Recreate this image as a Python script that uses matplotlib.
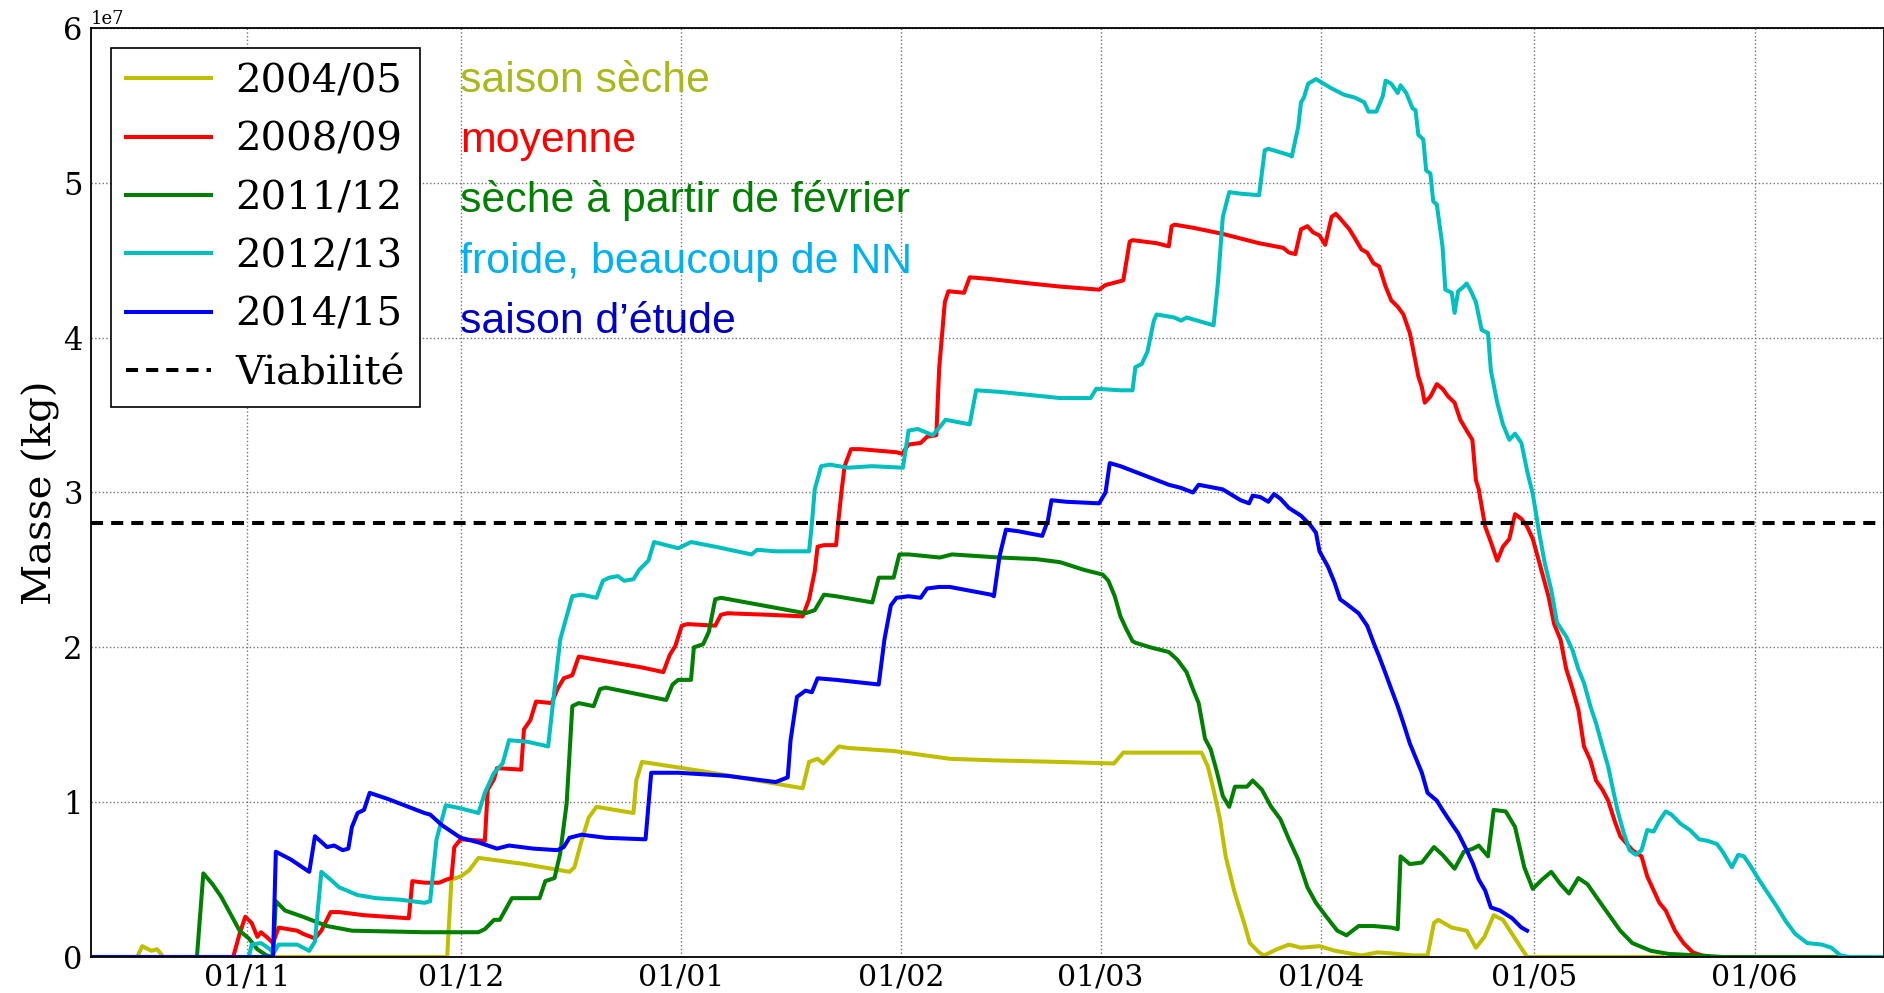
import numpy as np
import matplotlib
matplotlib.use("Agg")
import matplotlib.pyplot as plt
from matplotlib.ticker import FixedLocator, FixedFormatter

# days counted from 1 October, mass in units of 1e7 kg
yellow_days = [9, 15.5, 16.2, 17.5, 18.3, 19.2, 59.1, 59.7, 61, 62.2,
               63.5, 70, 76.3, 77, 78, 79, 80.1, 85.3, 85.7, 86.5,
               95, 109.1, 110, 111.2, 112, 114.2, 115.5, 122, 129.8, 136,
               145, 152.9, 154.2, 160, 165.2, 166.1, 166.9, 167.8, 168.6, 169.9,
               171.2, 172, 173.3, 174, 175.8, 177.5, 179.2, 181.8, 184, 187.7,
               190, 192.8, 195, 197, 197.9, 198.5, 200.4, 202.5, 203.8, 205,
               206.3, 207.6, 209.3, 211, 212, 230]
yellow_mass = [0, 0, 0.07, 0.04, 0.05, 0, 0, 0.5, 0.52, 0.56,
               0.64, 0.6, 0.55, 0.58, 0.75, 0.9, 0.97, 0.93, 1.14, 1.26,
               1.2, 1.09, 1.26, 1.28, 1.25, 1.36, 1.35, 1.33, 1.28, 1.27,
               1.26, 1.25, 1.32, 1.32, 1.32, 1.23, 1.08, 0.89, 0.65, 0.41,
               0.22, 0.09, 0.03, 0.01, 0.05, 0.08, 0.06, 0.07, 0.04, 0.01,
               0.03, 0.02, 0.01, 0.01, 0.22, 0.24, 0.19, 0.17, 0.06, 0.13,
               0.27, 0.24, 0.12, 0, 0, 0]

red_days = [9, 29, 29.9, 30.7, 31.6, 32.4, 32.9, 33.7, 34.6, 35.4,
            38, 38.8, 40.5, 41.4, 42.7, 43.9, 47.4, 53.7, 54.2, 55.9,
            58, 59, 59.7, 60.1, 61, 64.4, 64.8, 65.7, 66.1, 69.5,
            69.9, 70.8, 71.6, 73.8, 74.6, 75.5, 76.7, 77.6, 78.9, 81.4,
            86.5, 89.5, 90.4, 91.2, 92.1, 92.9, 96.8, 97.6, 98.5, 104.4,
            109.1, 110, 110.8, 111.2, 112.1, 113.8, 114.2, 114.6, 115, 115.9,
            117.2, 122.3, 123.1, 124, 125.7, 126.6, 127.9, 128.3, 129.1, 129.6,
            131.8, 132.6, 135.2, 141.1, 145.3, 150.8, 151.7, 154.2, 155.1, 155.5,
            158.9, 160.6, 161, 161.4, 164, 168.2, 169.9, 173.3, 176.7, 177.5,
            178.4, 179.2, 180.1, 180.9, 181.8, 182.6, 183.5, 184.1, 184.7, 186,
            186.8, 187.7, 188.5, 189.4, 190.2, 191.1, 191.9, 192.8, 193.6, 194.5,
            194.9, 195.7, 196.2, 196.6, 197.4, 198.3, 199.1, 199.9, 200.8, 201.6,
            202.5, 203.3, 203.8, 204.2, 205.1, 205.9, 206.8, 207.6, 208.5, 209.3,
            210.2, 211, 211.8, 212.7, 214, 214.8, 215.7, 216.5, 217.4, 218.2,
            219, 219.9, 220.7, 221.6, 222.4, 223.3, 224.1, 225.8, 227.1, 227.9,
            228.8, 229.6, 230.5, 231.8, 233, 234.3, 235.6, 236.8]
red_mass = [0, 0, 0.15, 0.26, 0.22, 0.13, 0.16, 0.13, 0.09, 0.19,
            0.17, 0.15, 0.12, 0.17, 0.29, 0.29, 0.27, 0.25, 0.49, 0.48,
            0.48, 0.5, 0.51, 0.71, 0.76, 0.75, 1.08, 1.15, 1.22, 1.21,
            1.47, 1.53, 1.65, 1.64, 1.73, 1.8, 1.82, 1.94, 1.93, 1.91,
            1.87, 1.84, 1.95, 2.01, 2.14, 2.15, 2.14, 2.21, 2.22, 2.21,
            2.2, 2.31, 2.49, 2.65, 2.66, 2.66, 2.85, 3.02, 3.17, 3.28,
            3.28, 3.26, 3.25, 3.31, 3.32, 3.36, 3.37, 3.8, 4.23, 4.3,
            4.29, 4.39, 4.38, 4.35, 4.33, 4.31, 4.34, 4.37, 4.62, 4.63,
            4.61, 4.59, 4.72, 4.73, 4.71, 4.67, 4.65, 4.61, 4.58, 4.55,
            4.54, 4.7, 4.72, 4.68, 4.66, 4.6, 4.78, 4.8, 4.77, 4.7,
            4.64, 4.57, 4.55, 4.48, 4.46, 4.33, 4.24, 4.2, 4.15, 4.03,
            3.94, 3.75, 3.68, 3.58, 3.62, 3.7, 3.67, 3.62, 3.58, 3.47,
            3.4, 3.34, 3.08, 3.02, 2.78, 2.68, 2.56, 2.65, 2.7, 2.86,
            2.83, 2.78, 2.7, 2.55, 2.33, 2.15, 2.05, 1.86, 1.73, 1.6,
            1.36, 1.27, 1.14, 1.08, 1.01, 0.88, 0.78, 0.69, 0.65, 0.52,
            0.43, 0.35, 0.3, 0.17, 0.09, 0.03, 0.01, 0]

green_days = [9, 23.9, 24.8, 26.1, 27.3, 28.6, 29.9, 31.2, 32.4, 33.7,
              34.6, 35, 36.3, 38.8, 42.2, 45.7, 50.8, 55.9, 61, 63.5,
              64.4, 65.7, 66.5, 68.2, 72.1, 72.9, 74.2, 75, 75.9, 76.7,
              77.6, 79.7, 80.6, 81.4, 89.9, 90.8, 91.6, 93.4, 93.8, 95.1,
              95.9, 96.8, 97.6, 109.5, 110.8, 112.1, 113.8, 118.9, 119.8, 121.9,
              122.7, 124, 128.4, 130.1, 136.8, 141.9, 145.3, 148.7, 151.3, 152.1,
              153, 153.8, 154.6, 155.5, 155.9, 158, 160.6, 161.8, 163.1, 164,
              164.8, 165.7, 166.5, 167.4, 168.2, 169.1, 169.9, 171.6, 172.4, 173.7,
              175, 176.3, 177.5, 178.8, 180.1, 181.3, 182.6, 184.3, 185.6, 187.3,
              189.4, 191.9, 192.8, 193.2, 194.5, 196.2, 197.9, 199.1, 200.8, 202.1,
              203.4, 204.2, 205.5, 206.3, 208, 209.3, 210.6, 211.8, 213.1, 214.4,
              215.7, 216.9, 218.2, 219.5, 220.7, 222.4, 224.1, 225.8, 228.4, 230.9,
              235.2, 238.5, 261.2]
green_mass = [0, 0, 0.54, 0.47, 0.39, 0.28, 0.17, 0.12, 0.05, 0.01,
              0, 0.36, 0.3, 0.26, 0.2, 0.17, 0.165, 0.16, 0.16, 0.16,
              0.18, 0.24, 0.24, 0.38, 0.38, 0.49, 0.51, 0.67, 0.99, 1.62,
              1.64, 1.62, 1.73, 1.74, 1.66, 1.76, 1.79, 1.79, 2.0, 2.02,
              2.1, 2.31, 2.32, 2.22, 2.24, 2.34, 2.33, 2.29, 2.45, 2.45,
              2.6, 2.6, 2.58, 2.6, 2.58, 2.57, 2.55, 2.5, 2.47, 2.43,
              2.33, 2.2, 2.12, 2.04, 2.03, 2.0, 1.97, 1.92, 1.84, 1.73,
              1.64, 1.41, 1.34, 1.19, 1.04, 0.97, 1.1, 1.1, 1.14, 1.08,
              0.97, 0.89, 0.76, 0.63, 0.45, 0.35, 0.27, 0.17, 0.14, 0.2,
              0.2, 0.19, 0.18, 0.65, 0.6, 0.61, 0.71, 0.66, 0.57, 0.68,
              0.7, 0.72, 0.65, 0.95, 0.94, 0.84, 0.58, 0.44, 0.5, 0.55,
              0.47, 0.41, 0.51, 0.47, 0.39, 0.28, 0.17, 0.09, 0.04, 0.02,
              0.01, 0, 0]

cyan_days = [9, 31.2, 31.6, 32.9, 34.2, 34.6, 35.4, 38, 39.7, 40.5,
             41.4, 42.7, 43.9, 46.5, 49.1, 52.5, 55.9, 56.7, 57.6, 58.9,
             61, 63.5, 64.4, 65.7, 66.9, 67.8, 70.4, 73.3, 74.2, 75,
             75.9, 76.7, 78, 80.1, 81, 81.9, 83.1, 84, 85.3, 86.1,
             87.4, 88.2, 89.9, 91.6, 93.4, 96.8, 101.9, 102.7, 105.3, 107,
             110, 110.4, 110.8, 111.7, 112.9, 115.5, 118.9, 123.2, 124, 125.3,
             127.4, 128.7, 129.2, 132.6, 133.5, 136.8, 141.1, 145.3, 149.6, 150.4,
             153.8, 155.5, 155.9, 156.8, 157.6, 158.5, 158.9, 161.4, 162.3, 163.1,
             166.9, 167.5, 168.2, 169.1, 170.7, 173.3, 174.1, 174.6, 177.5, 177.9,
             178.8, 179.2, 179.6, 180.2, 181.3, 183.5, 185.2, 186.8, 188.1, 188.7,
             189.8, 190.7, 191.1, 191.9, 192.8, 193.2, 194, 194.9, 195.3, 195.7,
             196.4, 196.8, 197.4, 197.8, 198.3, 199.1, 199.5, 200.4, 200.8, 201.3,
             202.1, 202.5, 203, 203.8, 204.6, 205.5, 205.9, 206.8, 207.6, 208.5,
             209.3, 210.2, 211, 211.8, 212.7, 213.5, 214.4, 215.2, 216.5, 217.4,
             218.2, 219, 219.9, 220.7, 221.6, 222.4, 222.9, 223.7, 224.6, 225.4,
             226.3, 227.1, 227.9, 228.8, 229.6, 230.5, 231.3, 232.6, 233.9, 235.2,
             236.4, 237.7, 238.5, 239.8, 240.7, 241.5, 242.4, 243.6, 244.9, 246.2,
             247.4, 248.7, 250.4, 252.5, 253.8, 255.1, 256.3, 261.2]
cyan_mass = [0, 0, 0.08, 0.09, 0.05, 0.02, 0.08, 0.08, 0.04, 0.1,
             0.55, 0.5, 0.45, 0.4, 0.38, 0.37, 0.35, 0.36, 0.76, 0.98,
             0.96, 0.93, 1.06, 1.19, 1.25, 1.4, 1.39, 1.36, 1.73, 2.05,
             2.2, 2.33, 2.34, 2.32, 2.43, 2.45, 2.46, 2.43, 2.44, 2.5,
             2.56, 2.68, 2.66, 2.64, 2.68, 2.65, 2.6, 2.63, 2.62, 2.62,
             2.62, 2.8, 3.02, 3.17, 3.18, 3.16, 3.17, 3.16, 3.4, 3.41,
             3.37, 3.44, 3.47, 3.44, 3.66, 3.65, 3.63, 3.61, 3.61, 3.67,
             3.66, 3.66, 3.81, 3.83, 3.91, 4.11, 4.15, 4.13, 4.11, 4.13,
             4.08, 4.35, 4.78, 4.94, 4.93, 4.92, 5.21, 5.22, 5.18, 5.17,
             5.36, 5.52, 5.55, 5.64, 5.67, 5.61, 5.57, 5.55, 5.52, 5.46,
             5.46, 5.56, 5.66, 5.64, 5.58, 5.63, 5.58, 5.48, 5.47, 5.31,
             5.28, 5.08, 5.06, 4.88, 4.86, 4.59, 4.31, 4.29, 4.16, 4.3,
             4.33, 4.35, 4.31, 4.23, 4.05, 4.03, 3.79, 3.58, 3.44, 3.34,
             3.38, 3.32, 3.14, 2.99, 2.74, 2.54, 2.37, 2.16, 2.07, 1.98,
             1.86, 1.77, 1.62, 1.51, 1.36, 1.23, 1.12, 0.95, 0.8, 0.69,
             0.66, 0.69, 0.82, 0.81, 0.88, 0.94, 0.92, 0.86, 0.82, 0.76,
             0.75, 0.73, 0.68, 0.58, 0.66, 0.65, 0.59, 0.5, 0.41, 0.32,
             0.23, 0.15, 0.09, 0.08, 0.06, 0.01, 0, 0]

blue_days = [9, 34.6, 35, 37.1, 39.7, 40.5, 42.2, 43.2, 44.4, 45.2,
             45.7, 46.5, 47.4, 48.2, 50.8, 55.9, 56.7, 58.4, 61, 63.5,
             66.1, 67.8, 71.2, 74.6, 75.5, 76.3, 78, 81.4, 87, 87.8,
             91.6, 98.5, 105.3, 107, 107.4, 108.3, 109.5, 110.4, 111.2, 113.8,
             119.8, 120.6, 121.5, 122.3, 124, 125.7, 126.6, 128.3, 129.8, 135.6,
             136, 136.8, 137.7, 139.4, 142.8, 143.6, 144.1, 146.2, 150.8, 151.7,
             152.3, 153.8, 157.2, 160.6, 162.3, 164, 164.8, 168.2, 170.7, 171.9,
             172.4, 173.5, 174.6, 175.4, 176.3, 177.5, 179.2, 180.5, 181.3, 181.8,
             183, 183.9, 184.7, 185.6, 187.3, 188.5, 189.4, 190.2, 191.1, 191.9,
             192.8, 193.6, 194.5, 195.3, 196.2, 197, 198.3, 199.1, 200.4, 201.3,
             202.5, 203.4, 204.2, 205.1, 205.9, 207.2, 208.9, 210.2, 211]
blue_mass = [0, 0, 0.68, 0.63, 0.55, 0.78, 0.71, 0.72, 0.69, 0.7,
             0.84, 0.93, 0.95, 1.06, 1.02, 0.93, 0.92, 0.85, 0.77, 0.74,
             0.7, 0.72, 0.7, 0.69, 0.71, 0.77, 0.79, 0.77, 0.76, 1.19,
             1.19, 1.17, 1.13, 1.16, 1.4, 1.68, 1.72, 1.71, 1.8, 1.79,
             1.76, 2.05, 2.27, 2.32, 2.33, 2.32, 2.38, 2.39, 2.39, 2.34,
             2.33, 2.59, 2.76, 2.75, 2.72, 2.82, 2.95, 2.94, 2.93, 3.0,
             3.19, 3.17, 3.11, 3.05, 3.03, 3.0, 3.05, 3.02, 2.95, 2.93,
             2.98, 2.97, 2.94, 2.99, 2.96, 2.9, 2.85, 2.79, 2.74, 2.62,
             2.52, 2.42, 2.31, 2.28, 2.22, 2.14, 2.03, 1.94, 1.83, 1.73,
             1.62, 1.51, 1.38, 1.29, 1.19, 1.06, 1.01, 0.95, 0.86, 0.8,
             0.69, 0.6, 0.5, 0.43, 0.32, 0.3, 0.25, 0.19, 0.17]

viability = 2.8e7

seasons = ['2004/05', '2008/09', '2011/12', '2012/13', '2014/15']
line_colors = ['#bfbf00', '#ff0000', '#008000', '#00bfbf', '#0000ff']
comments = [u'saison sèche', 'moyenne', u'sèche à partir de février',
            'froide, beaucoup de NN', u'saison d\u2019étude']
comment_colors = ['#a9b81a', '#ff0000', '#008000', '#00b0f0', '#0000c8']

tick_days = [31, 61, 92, 123, 151, 182, 212, 243]
tick_labels = ['01/11', '01/12', '01/01', '01/02', '01/03', '01/04', '01/05', '01/06']

plt.rcParams['font.family'] = 'DejaVu Serif'

W, H = 1884, 993
fig = plt.figure(figsize=(W / 100, H / 100), dpi=100)
ax = fig.add_axes([91 / W, 1 - 957 / H, (W - 91) / W, (957 - 28) / H])

series = [(yellow_days, yellow_mass), (red_days, red_mass), (green_days, green_mass),
          (cyan_days, cyan_mass), (blue_days, blue_mass)]
for (d, m), lab, col in zip(series, seasons, line_colors):
    ax.plot(d, np.array(m) * 1e7, color=col, lw=2.9, label=lab)

ax.axhline(viability, color='black', lw=2.9, ls=(0, (3, 2)), label=u'Viabilité')

ax.set_xlim(9, 261.2)
ax.set_ylim(0, 6e7)
ax.xaxis.set_major_locator(FixedLocator(tick_days))
ax.xaxis.set_major_formatter(FixedFormatter(tick_labels))
ax.set_yticks(np.arange(0, 7) * 1e7)
ax.ticklabel_format(axis='y', style='sci', scilimits=(0, 0))
ax.yaxis.get_offset_text().set_fontsize(13)
ax.tick_params(axis='both', labelsize=22, length=0)
ax.tick_params(axis='x', labelsize=21.5, pad=5)
ax.tick_params(axis='y', pad=6)
ax.grid(True, color='0.45', ls=':', lw=1)
for s in ax.spines.values():
    s.set_linewidth(1.3)

ax.set_ylabel('Masse (kg)', fontsize=29)
ax.yaxis.set_label_coords(-0.0175, 0.5)

leg = ax.legend(loc='upper left', fontsize=29, handlelength=2.1, handletextpad=0.6,
                labelspacing=0.53, borderpad=0.38, borderaxespad=0.5,
                fancybox=False, framealpha=1)
leg.get_frame().set_edgecolor('black')
leg.get_frame().set_linewidth(1.2)

for i, (txt, col) in enumerate(zip(comments, comment_colors)):
    fig.text(460 / W, 1 - (91.7 + 60.3 * i) / H, txt, color=col, fontsize=30.8,
             family='Liberation Sans', va='baseline', ha='left')

fig.savefig('out.png', dpi=100)
